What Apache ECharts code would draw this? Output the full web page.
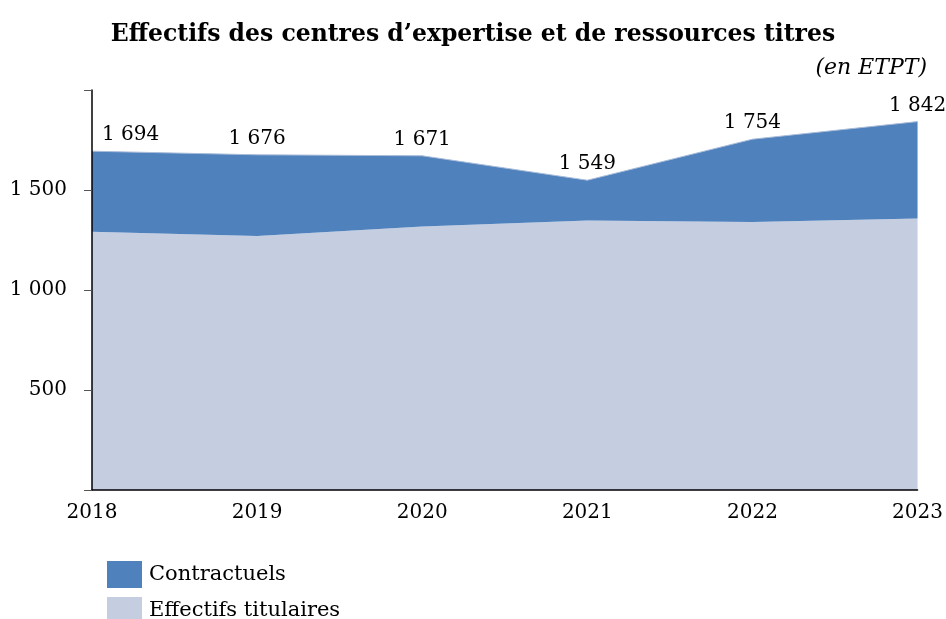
<!DOCTYPE html>
<html>
<head>
<meta charset="utf-8">
<script src="https://cdn.jsdelivr.net/npm/echarts@6/dist/echarts.min.js"></script>
<style>
html,body{margin:0;padding:0;background:#fff;}
#main{width:946px;height:619px;}
</style>
</head>
<body>
<div id="main"></div>
<script>
// donnees (en ETPT)
var years = ['2018', '2019', '2020', '2021', '2022', '2023'];
var titulaires = [1291, 1270, 1317, 1347, 1340, 1358];
var totals = [1694, 1676, 1671, 1549, 1754, 1842];
var contractuels = totals.map(function (t, i) { return t - titulaires[i]; });

var serif = 'DejaVu Serif';
function fmt(v) {
  var s = String(v);
  return s.length > 3 ? s.slice(0, s.length - 3) + ' ' + s.slice(-3) : s;
}
function legendItem(name, top) {
  return {
    left: 102,
    top: top,
    itemWidth: 35,
    itemHeight: 27,
    icon: 'rect',
    selectedMode: false,
    data: [name],
    textStyle: { fontFamily: serif, fontSize: 21, color: '#000', padding: [0, 0, 0, 2] }
  };
}

var myChart = echarts.init(document.getElementById('main'));

var option = {
  animation: false,
  title: [{
    text: 'Effectifs des centres d\u2019expertise et de ressources titres',
    left: 'center',
    top: 18,
    textStyle: { fontFamily: serif, fontWeight: 'bold', fontSize: 23.5, color: '#000' }
  }, {
    text: '(en ETPT)',
    right: 14,
    top: 52,
    textStyle: { fontFamily: serif, fontStyle: 'italic', fontWeight: 'normal', fontSize: 22, color: '#000' }
  }],
  legend: [legendItem('Contractuels', 556), legendItem('Effectifs titulaires', 592)],
  grid: { left: 92, right: 28, top: 90, bottom: 129 },
  xAxis: {
    type: 'category',
    boundaryGap: false,
    data: years,
    z: 5,
    axisLine: { lineStyle: { color: '#000', width: 1.5 } },
    axisTick: { show: false },
    axisLabel: { fontFamily: serif, fontSize: 20, color: '#000', margin: 13 }
  },
  yAxis: {
    type: 'value',
    min: 0,
    max: 2000,
    interval: 500,
    z: 5,
    splitLine: { show: false },
    axisLine: { show: true, lineStyle: { color: '#000', width: 1.5 } },
    axisTick: { show: true, length: 8, lineStyle: { color: '#555' } },
    axisLabel: {
      fontFamily: serif, fontSize: 20, color: '#000', margin: 25,
      formatter: function (v) { return (v === 0 || v === 2000) ? '' : fmt(v); }
    }
  },
  series: [{
    name: 'Effectifs titulaires',
    type: 'line',
    stack: 'total',
    symbol: 'none',
    lineStyle: { width: 0 },
    areaStyle: { color: '#C4CEE0', opacity: 1 },
    itemStyle: { color: '#C4CEE0' },
    data: titulaires
  }, {
    name: 'Contractuels',
    type: 'line',
    stack: 'total',
    symbol: 'circle',
    symbolSize: 0,
    showSymbol: true,
    lineStyle: { width: 1, color: '#A9BCD8' },
    areaStyle: { color: '#4F81BD', opacity: 1 },
    itemStyle: { color: '#4F81BD' },
    label: {
      show: true,
      position: 'top',
      distance: 6,
      fontFamily: serif,
      fontSize: 20,
      color: '#000',
      formatter: function (p) { return fmt(totals[p.dataIndex]); }
    },
    data: contractuels.map(function (v, i) {
      if (i === 0) return { value: v, label: { align: 'left', offset: [10, 0] } };
      return v;
    })
  }]
};

myChart.setOption(option);
</script>
</body>
</html>
